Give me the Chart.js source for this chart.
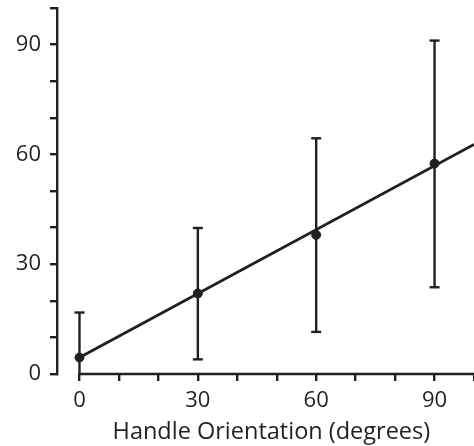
<!DOCTYPE html>
<html>
<head>
<meta charset="utf-8">
<script src="https://cdn.jsdelivr.net/npm/chart.js@4"></script>
<style>
  html, body { margin: 0; padding: 0; background: #fff; }
  #wrap { width: 474px; height: 446px; }
</style>
</head>
<body>
<div id="wrap"><canvas id="c" width="474" height="446"></canvas></div>
<script>
// Data
const angles = [0, 30, 60, 90];
const means = [4.5, 22, 38, 57.5];
const errLow = [-8, 4, 11.5, 23.7];
const errHigh = [16.8, 39.9, 64.4, 91.1];
const fitX = [0, 100];
const fitY = [4.5, 62.7];
const xTickValues = [0, 10, 20, 30, 40, 50, 60, 70, 80, 90, 100];
const xTickLabels = [0, 30, 60, 90];
const yTickLabels = [0, 30, 60, 90];

const INK = '#231f20';
const FONT = "'Open Sans', 'Liberation Sans', sans-serif";
const FS = 22;

const errorSets = angles.map((a, i) => ({
  type: 'line',
  data: [{ x: a, y: errLow[i] }, { x: a, y: errHigh[i] }],
  borderColor: INK,
  borderWidth: 2.4,
  showLine: true,
  clip: 0,
  pointStyle: 'line',
  pointRadius: 5,
  pointBorderWidth: 2.4,
  pointBorderColor: INK,
  pointHoverRadius: 5
}));

const axisLinePlugin = {
  id: 'xAxisLine',
  afterDraw(chart) {
    const xs = chart.scales.x, ys = chart.scales.y;
    const ctx = chart.ctx;
    const yPix = ys.getPixelForValue(0);
    ctx.save();
    ctx.strokeStyle = INK;
    ctx.lineWidth = 2.4;
    ctx.beginPath();
    ctx.moveTo(xs.getPixelForValue(0) - 1.2, yPix);
    ctx.lineTo(xs.getPixelForValue(100), yPix);
    ctx.stroke();
    ctx.restore();
  }
};

function noPad(scale) {
  scale.paddingTop = 0; scale.paddingBottom = 0;
  scale.paddingLeft = 0; scale.paddingRight = 0;
}

new Chart(document.getElementById('c'), {
  type: 'scatter',
  data: {
    datasets: [
      {
        type: 'line',
        data: fitX.map((x, i) => ({ x, y: fitY[i] })),
        borderColor: INK,
        borderWidth: 2.8,
        pointRadius: 0,
        showLine: true
      },
      ...errorSets,
      {
        data: angles.map((a, i) => ({ x: a, y: means[i] })),
        backgroundColor: INK,
        borderColor: INK,
        pointRadius: 4.5,
        pointHoverRadius: 4.5,
        showLine: false
      }
    ]
  },
  options: {
    responsive: false,
    animation: false,
    events: [],
    layout: { autoPadding: false, padding: { top: 8, right: 0, left: 0, bottom: 0 } },
    plugins: { legend: { display: false }, tooltip: { enabled: false } },
    scales: {
      x: {
        type: 'linear',
        min: -5.7,
        max: 100,
        afterBuildTicks(scale) {
          scale.ticks = xTickValues.map(v => ({ value: v }));
        },
        afterFit(scale) { scale.height = 72; noPad(scale); },
        border: { display: false },
        grid: {
          drawOnChartArea: false,
          drawTicks: true,
          tickLength: 7,
          color: INK,
          lineWidth: 2.4
        },
        ticks: {
          autoSkip: false,
          maxRotation: 0,
          padding: 7,
          color: INK,
          font: { family: FONT, size: FS },
          callback: v => (xTickLabels.includes(v) ? String(v) : '')
        },
        title: {
          display: true,
          text: '\u2002Handle Orientation (degrees)',
          color: INK,
          font: { family: FONT, size: 23.5 },
          padding: { top: 0, bottom: 0 }
        }
      },
      y: {
        type: 'linear',
        min: 0,
        max: 100,
        afterFit(scale) { scale.width = 57; noPad(scale); },
        border: { display: true, color: INK, width: 2.4 },
        grid: {
          drawOnChartArea: false,
          drawTicks: true,
          tickLength: 7,
          color: INK,
          lineWidth: 2.4
        },
        ticks: {
          stepSize: 10,
          autoSkip: false,
          padding: 9,
          color: INK,
          font: { family: FONT, size: FS },
          callback: v => (yTickLabels.includes(v) ? String(v) : '')
        }
      }
    }
  },
  plugins: [axisLinePlugin]
});
</script>
</body>
</html>
